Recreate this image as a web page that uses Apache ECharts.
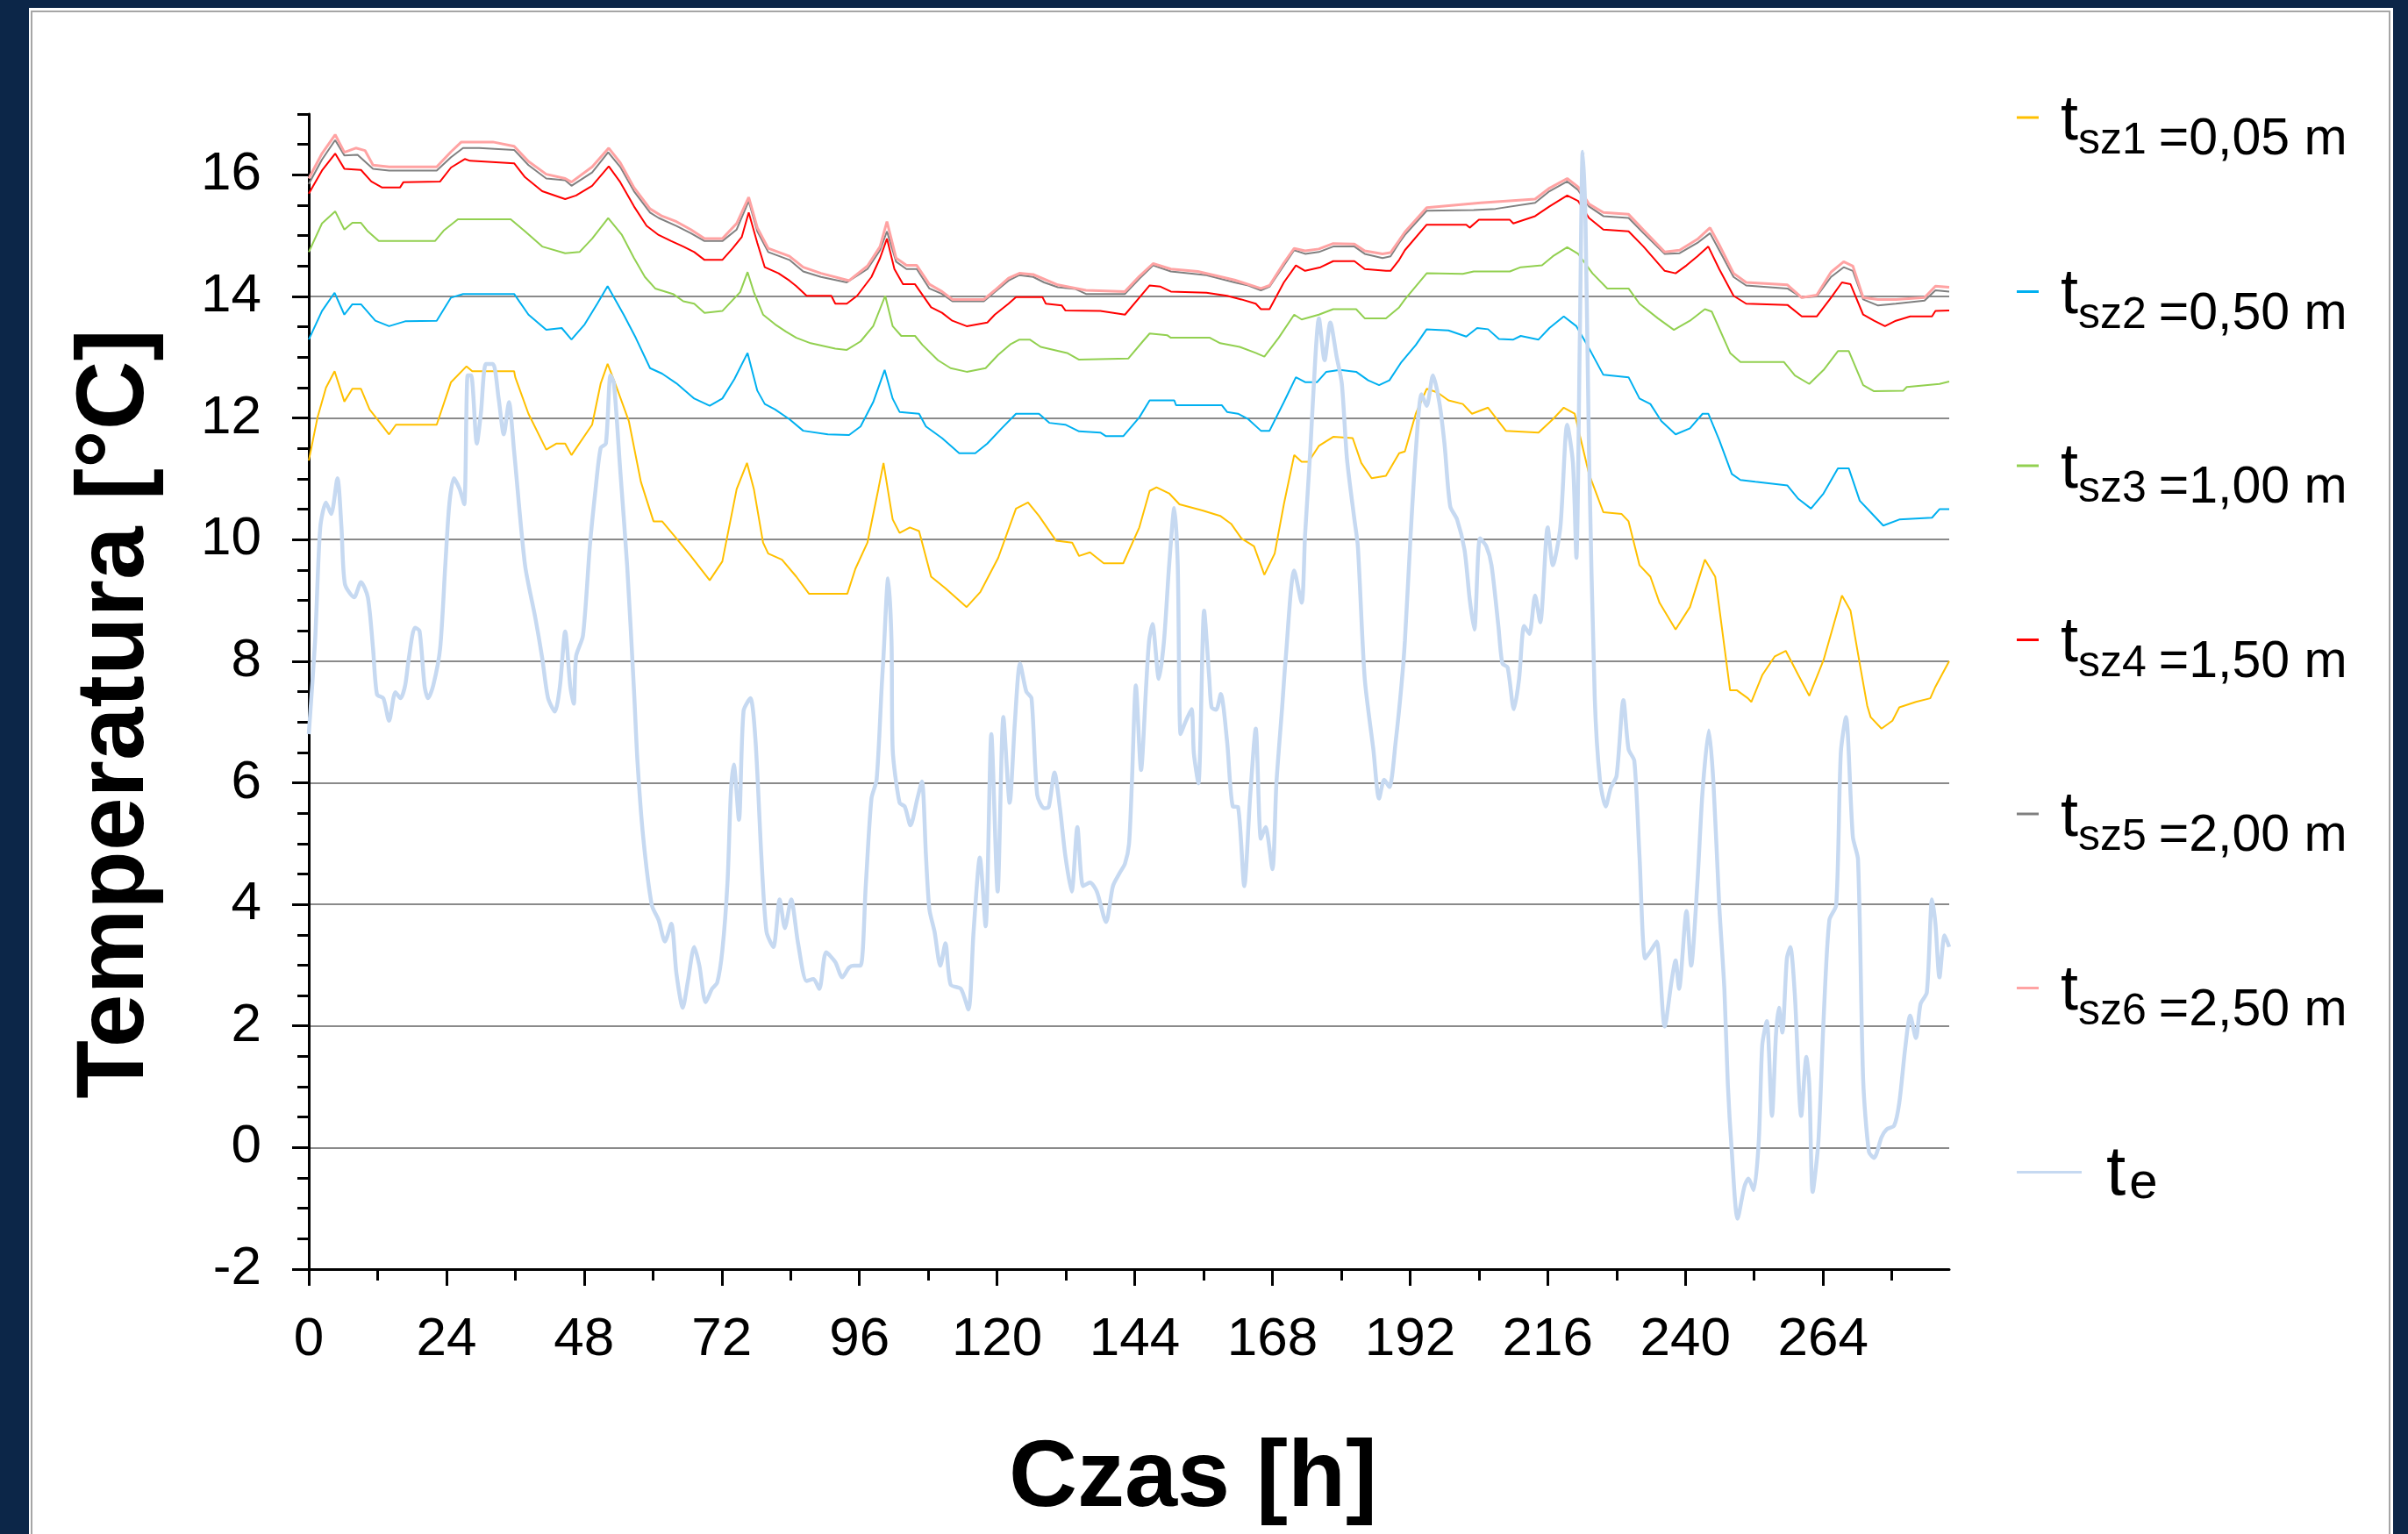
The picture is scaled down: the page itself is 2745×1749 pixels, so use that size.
<!DOCTYPE html>
<html><head><meta charset="utf-8">
<script src="https://cdn.jsdelivr.net/npm/echarts@6/dist/echarts.min.js"></script>
<style>
html,body{margin:0;padding:0;width:2745px;height:1749px;overflow:hidden;background:#0c2648;}
#panel{position:absolute;left:33px;top:9px;width:2695px;height:1760px;background:#fff;}
#frame{position:absolute;left:35px;top:12px;width:2690px;height:1760px;border:2px solid #a6a6a6;box-sizing:border-box;}
#chart{position:absolute;left:0;top:0;width:2745px;height:1749px;}
</style></head><body>
<div id="panel"></div><div id="frame"></div><div id="chart"></div>
<script>
// ---- axis tick values ----
const xMajorTicks = [0,24,48,72,96,120,144,168,192,216,240,264];
const xMinorTicks = [12,36,60,84,108,132,156,180,204,228,252,276];
const yMajorTicks = [-2,0,2,4,6,8,10,12,14,16];

// ---- legend texts ----
const subLabels = ['sz1','sz2','sz3','sz4','sz5','sz6'];
const depthLabels = ['=0,05 m','=0,50 m','=1,00 m','=1,50 m','=2,00 m','=2,50 m'];
const seriesColors = ['#ffc000','#00b0f0','#92d050','#ff0000','#808080','#ffa3a3'];
const teColor = '#c6d9f1';

// ---- data: [time h, temperature °C] ----
const tsz1 = [[0,11.3],[1.5,12.0],[3,12.5],[4.5,12.77],[6.2,12.27],[7.6,12.48],[9.1,12.48],[10.6,12.14],[12.2,11.95],[14,11.73],[15.2,11.89],[22.3,11.89],[24.8,12.59],[27.5,12.85],[28.5,12.77],[35.8,12.77],[36,12.67],[38.3,12.07],[41.4,11.48],[43.2,11.58],[44.7,11.58],[45.8,11.39],[49.4,11.89],[50.9,12.57],[52.1,12.89],[53.3,12.6],[55.8,11.95],[57.9,10.95],[60.1,10.3],[61.6,10.3],[64.1,10.02],[66.6,9.73],[69.9,9.33],[72.1,9.64],[74.6,10.83],[76.4,11.26],[77.6,10.83],[79.2,9.95],[80.1,9.77],[82.5,9.67],[85,9.39],[87.2,9.11],[93.9,9.11],[95.3,9.52],[97.4,9.95],[99.3,10.83],[100.2,11.26],[101.8,10.33],[103,10.11],[104.8,10.2],[106.4,10.14],[108.5,9.39],[111,9.2],[114.7,8.89],[117.1,9.14],[120.2,9.7],[123.3,10.51],[125.4,10.61],[127.3,10.39],[130.3,9.98],[133.1,9.95],[134.3,9.73],[136.2,9.79],[138.6,9.61],[142,9.61],[144.8,10.2],[146.6,10.8],[147.8,10.86],[150,10.76],[151.8,10.58],[155.8,10.48],[158.9,10.39],[160.8,10.26],[162.6,10.02],[164.8,9.89],[166.6,9.42],[168.4,9.77],[170,10.58],[171.8,11.39],[173.1,11.28],[174.3,11.28],[176.1,11.54],[178.6,11.69],[182,11.67],[183.5,11.26],[185.3,11.01],[187.8,11.05],[190.1,11.42],[191.1,11.45],[193,12.07],[194.9,12.48],[196.8,12.42],[198.7,12.29],[201.2,12.23],[202.8,12.07],[205.6,12.17],[208.7,11.79],[214.4,11.76],[216.9,11.98],[218.8,12.17],[220.7,12.07],[223.2,11.08],[225.7,10.45],[228.9,10.42],[230.1,10.3],[232,9.58],[233.9,9.39],[235.5,8.96],[238.3,8.52],[240.8,8.89],[243.4,9.67],[245.2,9.39],[247.8,7.52],[249,7.52],[250.9,7.39],[251.5,7.33],[253.4,7.77],[255.6,8.08],[257.5,8.17],[259.7,7.77],[261.6,7.43],[264.1,8.02],[267.3,9.08],[268.8,8.83],[270.4,7.96],[271.7,7.27],[272.3,7.08],[274.2,6.89],[276.1,7.02],[277.3,7.24],[280.2,7.33],[282.7,7.39],[283.6,7.58],[286,8.0]];

const tsz2 = [[0,13.29],[2.3,13.76],[4.5,14.06],[6.2,13.7],[7.6,13.87],[9.1,13.87],[11.6,13.6],[14,13.51],[16.8,13.59],[22.3,13.6],[24.8,13.98],[26.9,14.04],[35.8,14.04],[38.3,13.7],[41.4,13.45],[44.1,13.48],[45.8,13.29],[48.1,13.54],[50.3,13.88],[52.1,14.17],[54.9,13.7],[57,13.32],[59.5,12.82],[61.6,12.73],[64.1,12.57],[67.2,12.32],[69.9,12.2],[72.1,12.32],[74.2,12.64],[76.5,13.07],[78.2,12.45],[79.5,12.23],[81.3,12.14],[83.8,11.98],[86.2,11.79],[90.5,11.73],[94.2,11.72],[96.2,11.86],[98.4,12.26],[100.4,12.79],[101.8,12.32],[103,12.1],[106.4,12.07],[107.6,11.86],[110.4,11.67],[113.4,11.42],[116.2,11.42],[118.3,11.58],[120.8,11.83],[123.3,12.07],[127.3,12.07],[129.1,11.92],[131.9,11.89],[134.3,11.78],[138,11.76],[139,11.7],[142,11.7],[144.8,12.01],[146.6,12.29],[150.9,12.29],[151.2,12.21],[159.2,12.21],[160.1,12.1],[162,12.07],[163.8,11.98],[166,11.79],[167.5,11.79],[170,12.26],[172.1,12.67],[173.7,12.59],[175.8,12.59],[177.4,12.76],[179.8,12.79],[182.6,12.76],[184.7,12.62],[186.6,12.54],[188.4,12.62],[190.5,12.92],[193,13.2],[194.9,13.46],[198.7,13.44],[201.8,13.34],[203.7,13.48],[205.6,13.46],[207.5,13.3],[210,13.29],[211.3,13.35],[214.4,13.29],[216.3,13.48],[218.8,13.67],[221,13.51],[222.9,13.2],[225.7,12.71],[230.1,12.67],[232,12.32],[233.9,12.23],[235.8,11.95],[238.3,11.73],[240.8,11.83],[243,12.07],[244,12.07],[245.9,11.64],[248.1,11.08],[249.6,10.98],[252.2,10.95],[257.8,10.89],[259.7,10.67],[261.9,10.51],[264.1,10.76],[266.6,11.17],[268.5,11.17],[270.4,10.64],[272.3,10.45],[274.5,10.23],[277.3,10.33],[283,10.36],[284.3,10.5],[286,10.5]];

const tsz3 = [[0,14.73],[2.3,15.2],[4.6,15.4],[6.2,15.1],[7.6,15.21],[9.1,15.21],[10.3,15.07],[12.2,14.91],[22,14.91],[23.5,15.08],[26,15.27],[35.2,15.27],[37.7,15.07],[40.7,14.82],[44.7,14.71],[47.2,14.73],[49.4,14.95],[52.2,15.29],[54.6,15.01],[56.7,14.63],[58.6,14.32],[60.4,14.13],[63.5,14.04],[65.3,13.92],[67.2,13.88],[69,13.73],[72.1,13.76],[75.2,14.07],[76.5,14.4],[77.6,14.07],[79.2,13.7],[81.3,13.54],[83.2,13.42],[85,13.32],[87.5,13.23],[91.8,13.14],[93.8,13.12],[96.2,13.26],[98.4,13.51],[100.5,14.01],[101.8,13.51],[103.3,13.35],[105.7,13.35],[107,13.2],[109.7,12.95],[111.9,12.82],[114.7,12.76],[118,12.82],[120.2,13.04],[122.3,13.21],[123.9,13.29],[125.7,13.29],[127.6,13.17],[132.2,13.07],[134.3,12.96],[142.9,12.98],[145.4,13.26],[146.6,13.39],[149.7,13.36],[150.3,13.32],[157.1,13.32],[158.9,13.23],[162.3,13.17],[165.1,13.07],[166.6,13.01],[169.1,13.32],[171.8,13.7],[173.1,13.62],[176.1,13.7],[178.6,13.79],[182.6,13.79],[184.1,13.64],[187.8,13.64],[190.1,13.82],[191.1,13.95],[194.9,14.38],[201.2,14.37],[203.1,14.41],[209.4,14.41],[211.3,14.48],[215,14.51],[216.9,14.66],[219.4,14.81],[221.3,14.7],[223.8,14.38],[226.4,14.13],[230.1,14.13],[232,13.88],[235.2,13.64],[238,13.45],[240.8,13.6],[243.4,13.79],[244.6,13.75],[247.8,13.07],[249.6,12.92],[257.2,12.92],[259.1,12.7],[261.6,12.56],[264.1,12.79],[266.6,13.1],[268.5,13.1],[271,12.54],[272.9,12.44],[278,12.45],[278.6,12.51],[284.3,12.56],[286,12.6]];

const tsz4 = [[0,15.69],[2.3,16.07],[4.6,16.35],[6.2,16.1],[9.1,16.08],[10.9,15.89],[12.8,15.79],[15.9,15.79],[16.5,15.88],[22.9,15.89],[24.8,16.12],[27.2,16.26],[28.1,16.23],[35.8,16.19],[37.7,15.96],[40.7,15.73],[44.7,15.6],[46.6,15.66],[49.4,15.82],[52.3,16.14],[54.3,15.88],[56.7,15.48],[58.9,15.16],[61,15.01],[63.2,14.91],[65.3,14.82],[67.2,14.73],[69,14.6],[72.1,14.6],[73.9,14.79],[75.5,14.98],[76.7,15.38],[78.2,14.88],[79.5,14.48],[81.9,14.38],[83.8,14.26],[85,14.17],[86.8,14.01],[91.1,14.01],[91.8,13.88],[93.8,13.88],[95.6,14.01],[98.1,14.32],[99.6,14.63],[100.8,14.95],[102.1,14.45],[103.6,14.2],[105.7,14.2],[108.5,13.82],[110.4,13.73],[112.2,13.6],[114.7,13.51],[118.3,13.57],[119.6,13.7],[122,13.88],[123.3,13.99],[127.9,13.99],[128.5,13.88],[131.3,13.85],[131.9,13.77],[138,13.76],[142.3,13.7],[144.8,13.98],[146.6,14.18],[148.5,14.16],[150.3,14.08],[156.5,14.06],[160.1,14.01],[162.6,13.95],[165.1,13.88],[166,13.79],[167.5,13.79],[170,14.23],[172.1,14.51],[173.7,14.42],[176.4,14.48],[178.6,14.58],[182.3,14.58],[184.1,14.45],[187.8,14.42],[188.6,14.42],[190.1,14.6],[191.1,14.76],[194.9,15.18],[201.8,15.18],[202.4,15.13],[204,15.26],[209.4,15.26],[210,15.2],[213.8,15.32],[216.3,15.48],[219.4,15.66],[221.3,15.57],[223.2,15.29],[225.7,15.1],[230.1,15.07],[232.7,14.82],[236.4,14.42],[238.3,14.38],[240.2,14.51],[242.1,14.66],[244,14.82],[245.9,14.45],[248.4,14.01],[250.6,13.88],[257.8,13.86],[260.3,13.67],[262.9,13.67],[265.4,13.98],[267.3,14.23],[268.8,14.2],[271,13.7],[272.9,13.6],[274.8,13.51],[276.7,13.6],[279.2,13.67],[283,13.67],[283.6,13.76],[286,13.77]];

const tsz5 = [[0,15.85],[2.3,16.25],[4.6,16.57],[6.2,16.32],[8.5,16.33],[11.2,16.1],[14,16.07],[22.3,16.07],[24.8,16.29],[26.9,16.44],[29.7,16.44],[35.8,16.41],[38.3,16.16],[41.4,15.94],[44.7,15.91],[45.8,15.82],[49.4,16.04],[52.2,16.37],[54.3,16.13],[56.7,15.73],[59.5,15.38],[61,15.29],[64.1,15.16],[66.6,15.04],[69,14.91],[72.1,14.91],[74.6,15.1],[76.7,15.57],[78.2,15.07],[80.1,14.73],[83.8,14.6],[86.2,14.41],[89.3,14.32],[93.8,14.23],[97.4,14.45],[99.6,14.76],[100.8,15.07],[102.4,14.57],[104.2,14.45],[106,14.45],[108.2,14.13],[110.4,14.04],[112.2,13.92],[117.7,13.92],[119.6,14.07],[122,14.26],[123.9,14.35],[126.3,14.32],[128.2,14.23],[130.6,14.15],[133.7,14.12],[135.5,14.04],[142.3,14.04],[144.8,14.29],[147.2,14.51],[150.3,14.41],[156.5,14.35],[161.4,14.23],[163.8,14.18],[166,14.1],[167.5,14.16],[170,14.51],[171.8,14.76],[173.7,14.7],[176.1,14.73],[178.6,14.82],[182.3,14.82],[184.1,14.7],[187.2,14.63],[188.6,14.66],[190.1,14.88],[191.1,15.01],[194.9,15.41],[203.1,15.42],[206.9,15.44],[213.8,15.54],[216.3,15.73],[219.4,15.89],[221.3,15.75],[223.2,15.48],[225.7,15.32],[230.1,15.29],[232.7,15.04],[236.4,14.7],[239,14.71],[242.1,14.88],[244.3,15.04],[245.9,14.76],[248.4,14.32],[250.6,14.18],[257.8,14.13],[260.3,13.98],[262.9,14.0],[265.4,14.32],[267.6,14.48],[269.2,14.42],[271,13.95],[273.6,13.85],[276.7,13.88],[281.7,13.93],[283.6,14.1],[286,14.08]];

const tsz6 = [[0,15.94],[2.3,16.35],[4.6,16.66],[6.2,16.37],[8.2,16.44],[9.8,16.4],[11.2,16.16],[14,16.13],[22.3,16.13],[24.8,16.38],[26.6,16.54],[32.1,16.54],[35.8,16.47],[38.3,16.22],[41.4,16.01],[44.7,15.94],[45.8,15.88],[49.4,16.13],[52.3,16.44],[54.3,16.2],[56.7,15.79],[59.5,15.44],[61.6,15.32],[64.1,15.23],[66.6,15.1],[69,14.95],[72.1,14.95],[74.6,15.2],[76.7,15.63],[78.2,15.13],[80.1,14.79],[83.8,14.66],[86.2,14.48],[89.3,14.38],[94.2,14.26],[97.4,14.5],[99.6,14.82],[100.8,15.23],[102.4,14.63],[104.2,14.51],[106,14.51],[108.2,14.2],[110.4,14.08],[112.2,13.95],[117.7,13.95],[119.6,14.1],[122,14.3],[123.9,14.38],[126.3,14.36],[130.6,14.19],[135.5,14.1],[142.3,14.08],[144.8,14.33],[147.2,14.54],[150.3,14.45],[155,14.41],[161.4,14.27],[166,14.13],[167.5,14.18],[170,14.55],[171.8,14.79],[173.7,14.75],[176.1,14.78],[178.6,14.87],[182.3,14.86],[184.1,14.75],[187.2,14.7],[188.6,14.72],[190.1,14.92],[191.1,15.06],[194.9,15.46],[204.3,15.54],[213.8,15.6],[216.3,15.78],[219.4,15.94],[221.3,15.8],[223.2,15.52],[225.7,15.38],[230.1,15.35],[232.7,15.09],[236.4,14.73],[239,14.76],[242.1,14.94],[244.3,15.13],[245.9,14.85],[248.4,14.38],[250.6,14.23],[257.8,14.19],[260.3,13.98],[262.9,14.02],[265.4,14.4],[267.6,14.57],[269.2,14.5],[271,13.98],[273.6,13.95],[276.7,13.95],[281.7,13.98],[283.6,14.17],[286,14.15]];

const te = [[0,6.8],[1.1,8.33],[2,10.2],[3,10.61],[3.9,10.42],[5,11.01],[5.7,10.2],[6.3,9.27],[7.9,9.05],[9.1,9.3],[10.3,9.05],[11.2,8.21],[11.9,7.45],[13,7.39],[14,7.02],[15.1,7.49],[16,7.39],[16.8,7.6],[17.4,8.02],[18.5,8.55],[19.3,8.5],[20.2,7.58],[20.8,7.39],[21.7,7.6],[22.9,8.21],[23.8,9.58],[24.5,10.58],[25.3,11.01],[26.3,10.83],[27.1,10.58],[27.7,12.7],[28.3,12.7],[29.3,11.58],[30,12.07],[30.9,12.89],[32.1,12.89],[33.1,12.32],[34,11.73],[34.9,12.26],[35.8,11.45],[37.7,9.58],[39.5,8.71],[40.7,8.05],[41.7,7.4],[42.9,7.17],[43.8,7.6],[44.7,8.49],[45.6,7.58],[46.2,7.3],[46.6,8.08],[47.8,8.42],[49,9.89],[50,10.83],[50.9,11.51],[51.8,11.58],[52.6,12.7],[53.2,12.57],[54.3,11.14],[55.5,9.58],[56.7,7.52],[57.3,6.36],[58.3,5.11],[59.8,3.99],[61,3.74],[62.1,3.39],[63.2,3.68],[64.1,2.86],[65.2,2.3],[66.1,2.74],[67.2,3.3],[68.1,2.99],[69.2,2.39],[70.3,2.61],[71.2,2.71],[72.1,3.24],[73,4.36],[73.6,5.86],[74.1,6.3],[75,5.39],[75.8,7.18],[77,7.39],[77.9,6.67],[78.9,4.8],[79.8,3.55],[81,3.3],[82.1,4.08],[83,3.61],[84.1,4.08],[85.3,3.36],[86.8,2.74],[88,2.77],[89,2.61],[90.2,3.21],[91.8,3.05],[93,2.8],[94.2,2.96],[95,2.99],[96.2,2.99],[97.1,4.3],[98.1,5.74],[99,6.05],[99.9,7.61],[100.2,8.08],[101,9.36],[101.6,8.33],[101.8,6.55],[103,5.67],[103.9,5.61],[104.9,5.3],[106.1,5.74],[106.9,6.02],[107.6,4.8],[108.2,3.92],[109.1,3.55],[110.1,2.99],[111,3.36],[111.9,2.68],[113.7,2.61],[115,2.27],[115.9,3.55],[117,4.77],[118,3.64],[119,6.8],[120.1,4.21],[121.1,7.08],[122.2,5.67],[123.1,6.99],[124,7.96],[125.1,7.5],[126,7.39],[127,5.8],[128.2,5.58],[129,5.6],[130,6.17],[131,5.55],[131.9,4.8],[133,4.21],[134,5.27],[135,4.3],[136.2,4.36],[137.4,4.21],[139,3.71],[140.2,4.3],[141.4,4.52],[142.3,4.67],[143,4.99],[143.5,5.99],[144.2,7.6],[145.1,6.21],[146,7.61],[146.5,8.33],[147.1,8.61],[148.2,7.71],[149.1,8.33],[150,9.58],[150.9,10.52],[151.5,9.58],[152,6.8],[152.8,6.99],[153.9,7.21],[154.3,6.49],[155.1,5.99],[156.1,8.83],[157,7.71],[157.4,7.24],[158.2,7.2],[159,7.46],[160.1,6.68],[161.1,5.61],[162,5.6],[163.1,4.3],[164.1,5.74],[165.1,6.89],[166,5.08],[166.8,5.27],[168,4.58],[168.7,5.99],[169.7,7.24],[170.3,8.02],[171.8,9.49],[173.1,8.96],[173.7,10.08],[174.6,11.45],[175.5,13.01],[176.1,13.64],[177.1,12.95],[178.1,13.57],[179.2,13.01],[180.1,12.57],[181,11.33],[182.3,10.33],[182.9,9.89],[184.1,7.71],[185.6,6.55],[186.6,5.74],[187.5,6.05],[188.4,5.93],[189.5,6.68],[190.5,7.6],[191.1,8.33],[192.1,10.08],[193,11.45],[194,12.39],[194.9,12.2],[196,12.7],[197.1,12.26],[198,11.58],[199,10.55],[200.2,10.33],[201.5,9.83],[202.4,9.02],[203.2,8.52],[204.2,10.02],[205.3,9.89],[206.2,9.58],[207.4,8.58],[208.1,7.96],[209,7.9],[210.1,7.21],[211,7.7],[211.9,8.58],[212.8,8.45],[213.8,9.08],[214.7,8.64],[216,10.2],[216.9,9.58],[218.2,10.2],[219.4,11.89],[220.4,11.26],[221,9.7],[221.6,13.32],[222.1,16.38],[222.6,15.2],[223.2,11.45],[224.2,7.4],[225.1,6.05],[226.1,5.61],[227,5.92],[228,6.11],[229.2,7.36],[230.1,6.55],[231.1,6.36],[232,4.8],[233,3.11],[234,3.24],[235,3.39],[236.4,1.99],[237.6,2.74],[238.3,3.08],[238.9,2.61],[240.2,3.89],[241,2.99],[242.1,4.36],[243,5.86],[244.1,6.86],[244.9,5.99],[245.9,3.99],[246.8,2.61],[247.4,1.05],[248.1,-0.07],[249.1,-1.17],[250.3,-0.64],[251,-0.51],[251.9,-0.7],[252.8,0.11],[253.4,1.68],[254.2,2.08],[255.1,0.52],[255.8,1.86],[256.3,2.3],[256.9,1.89],[257.7,3.11],[258.3,3.3],[259.1,2.49],[260.2,0.52],[261.1,1.49],[261.6,1.05],[262.2,-0.73],[263.2,0.11],[264.1,2.11],[265.1,3.74],[266.3,3.99],[267.1,6.49],[268,7.08],[269.2,5.11],[270.1,4.74],[271,1.11],[272,-0.07],[272.9,-0.17],[274.2,0.17],[275.1,0.3],[276.4,0.36],[277.3,0.74],[278.3,1.61],[279.2,2.17],[280.2,1.8],[281,2.36],[282.1,2.55],[283,4.08],[283.6,3.68],[284.3,2.8],[285.2,3.49],[286,3.3]];

const soilData = [tsz1, tsz2, tsz3, tsz4, tsz5, tsz6];
const seriesNames = subLabels.map((s, i) => 't' + s + ' ' + depthLabels[i]);
const FONT = '"Liberation Sans", Arial, Helvetica, sans-serif';

const chart = echarts.init(document.getElementById('chart'), null, {renderer: 'canvas'});

const series = soilData.map((d, i) => ({
  name: seriesNames[i],
  type: 'line',
  data: d,
  xAxisIndex: 0, yAxisIndex: 0,
  showSymbol: false, symbol: 'none',
  color: seriesColors[i],
  lineStyle: {width: i === 5 ? 3 : 2, color: seriesColors[i]},
  emphasis: {disabled: true},
  z: 2 + i
}));
series.push({
  name: 'te', type: 'line', data: te,
  xAxisIndex: 0, yAxisIndex: 0,
  showSymbol: false, symbol: 'none', smooth: 0.25,
  color: teColor,
  lineStyle: {width: 4.5, color: teColor},
  emphasis: {disabled: true},
  z: 10
});

const axisBlack = {color: '#000', width: 3};

const option = {
  animation: false,
  backgroundColor: 'transparent',
  textStyle: {fontFamily: FONT},
  grid: {left: 352, top: 130, width: 1870, height: 1317, containLabel: false},
  xAxis: [{
    type: 'value', min: 0, max: 286, interval: 24, position: 'bottom',
    axisLine: {show: true, onZero: false, lineStyle: axisBlack},
    axisTick: {show: true, length: 19, lineStyle: axisBlack, customValues: xMajorTicks},
    axisLabel: {show: true, customValues: xMajorTicks, fontSize: 62, color: '#000', fontFamily: FONT, margin: 50},
    splitLine: {show: false},
    name: 'Czas [h]', nameLocation: 'middle', nameGap: 186,
    nameTextStyle: {fontSize: 108, fontWeight: 'bold', color: '#000', fontFamily: FONT, padding: [0, 0, 0, 146]}
  }, {
    type: 'value', min: 0, max: 286, position: 'bottom',
    axisLine: {show: false, onZero: false},
    axisTick: {show: true, length: 13, lineStyle: axisBlack, customValues: xMinorTicks},
    axisLabel: {show: false},
    splitLine: {show: false}
  }],
  yAxis: [{
    type: 'value', min: -2, max: 17, interval: 2, position: 'left',
    axisLine: {show: true, onZero: false, lineStyle: axisBlack},
    axisTick: {show: true, length: 19, lineStyle: axisBlack, customValues: yMajorTicks},
    axisLabel: {show: true, customValues: yMajorTicks, fontSize: 62, color: '#000', fontFamily: FONT, margin: 54},
    splitLine: {show: true, showMinLine: false, showMaxLine: false, lineStyle: {color: '#8a8a8a', width: 2}},
    name: 'Temperatura [°C]', nameLocation: 'middle', nameGap: 165,
    nameTextStyle: {fontSize: 109, fontWeight: 'bold', color: '#000', fontFamily: FONT, padding: [0, 51, 0, 0]}
  }, {
    type: 'value', min: -2, max: 17, interval: 0.5, position: 'left', offset: 0,
    axisLine: {show: false, onZero: false},
    axisTick: {show: true, length: 13, lineStyle: axisBlack},
    axisLabel: {show: false},
    splitLine: {show: false}
  }],
  legend: [{
    data: seriesNames, orient: 'vertical', left: 2299, top: 103, padding: 0,
    itemWidth: 25, itemHeight: 3, itemGap: 112, icon: 'rect', selectedMode: false,
    formatter: function (name) {
      const i = seriesNames.indexOf(name);
      return '{t|t}{s|' + subLabels[i] + '}{v|' + depthLabels[i] + '}';
    },
    textStyle: {
      color: '#000', fontFamily: FONT,
      rich: {
        t: {fontSize: 72, color: '#000', fontFamily: FONT, padding: [10, 0, 0, 20]},
        s: {fontSize: 50, color: '#000', fontFamily: FONT, padding: [55, 0, 0, 0]},
        v: {fontSize: 59, color: '#000', fontFamily: FONT, padding: [52, 0, 0, 14]}
      }
    }
  }, {
    data: ['te'], orient: 'vertical', left: 2299, top: 1300, padding: 0,
    itemWidth: 74, itemHeight: 3, icon: 'rect', selectedMode: false,
    formatter: function () { return '{t|t}{e|e}'; },
    textStyle: {
      color: '#000', fontFamily: FONT,
      rich: {
        t: {fontSize: 80, color: '#000', fontFamily: FONT, padding: [7, 0, 0, 23]},
        e: {fontSize: 58, color: '#000', fontFamily: FONT, padding: [26, 0, 0, 4]}
      }
    }
  }],
  series: series
};
chart.setOption(option);
</script>
</body></html>
